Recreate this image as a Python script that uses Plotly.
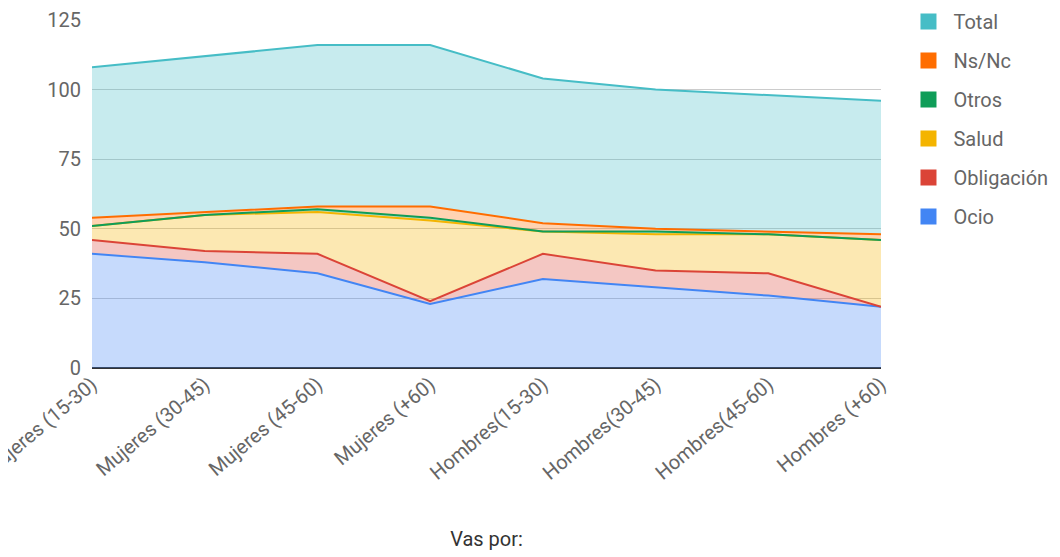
import plotly.graph_objects as go

categories = ["Mujeres (15-30)", "Mujeres (30-45)", "Mujeres (45-60)", "Mujeres (+60)",
              "Hombres(15-30)", "Hombres(30-45)", "Hombres(45-60)", "Hombres (+60)"]
ocio = [41, 38, 34, 23, 32, 29, 26, 22]
obligacion = [5, 4, 7, 1, 9, 6, 8, 0]
salud = [5, 13, 15, 29, 8, 13, 14, 24]
otros = [0, 0, 1, 1, 0, 1, 0, 0]
nsnc = [3, 1, 1, 4, 3, 1, 1, 2]
total = [54, 56, 58, 58, 52, 50, 49, 48]

series = [
    ("Ocio", ocio, "#4285F4"),
    ("Obligación", obligacion, "#DB4437"),
    ("Salud", salud, "#F4B400"),
    ("Otros", otros, "#0F9D58"),
    ("Ns/Nc", nsnc, "#FF6D00"),
    ("Total", total, "#46BDC6"),
]

def rgba(h, a):
    h = h.lstrip("#")
    r, g, b = int(h[0:2], 16), int(h[2:4], 16), int(h[4:6], 16)
    return f"rgba({r},{g},{b},{a})"

fig = go.Figure()
for name, vals, col in series:
    fig.add_trace(go.Scatter(
        x=categories, y=vals, name=name, mode="lines",
        stackgroup="one", line=dict(color=col, width=2),
        fillcolor=rgba(col, 0.3), showlegend=False,
        hoverinfo="x+y+name",
    ))
# legend entries (top to bottom: Total ... Ocio)
for name, vals, col in reversed(series):
    fig.add_trace(go.Scatter(
        x=[None], y=[None], name=name, mode="markers",
        marker=dict(symbol="square", size=20, color=col),
        showlegend=True, legendgroup="L" + name,
    ))

fig.update_layout(
    width=1052, height=549,
    margin=dict(l=84, r=179, t=12, b=189, autoexpand=False),
    paper_bgcolor="white", plot_bgcolor="white",
    font=dict(family="Roboto, Arial, sans-serif", size=20, color="#666"),
    legend=dict(
        x=1.0285, y=1.0518, xanchor="left", yanchor="top",
        traceorder="grouped", tracegroupgap=10,
        font=dict(size=20, color="#666"), bgcolor="rgba(0,0,0,0)",
        itemwidth=40,
    ),
    xaxis=dict(
        type="category", range=[0, 7], showgrid=False, tickangle=-40,
        ticks="", tickfont=dict(size=20, color="#666"), automargin=False,
        title=dict(text="Vas por:", font=dict(size=20, color="#333"), standoff=48),
        showline=False, zeroline=False,
    ),
    yaxis=dict(
        range=[0, 125], dtick=25, tick0=0, showgrid=True, gridcolor="#cccccc",
        zeroline=True, zerolinecolor="#333333", zerolinewidth=1.5,
        tickfont=dict(size=20, color="#666"), ticks="", ticklabelstandoff=10,
        automargin=False,
    ),
)

fig.write_html("out.html")
